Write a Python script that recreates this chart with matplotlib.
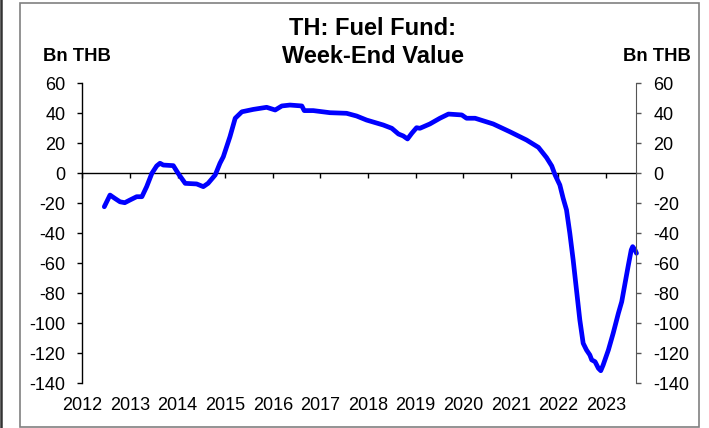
import matplotlib
matplotlib.use("Agg")
import matplotlib.pyplot as plt
from matplotlib.patches import Rectangle
from matplotlib.lines import Line2D

plt.rcParams['font.family'] = ['Liberation Sans', 'DejaVu Sans']
plt.rcParams['axes.unicode_minus'] = False

# ===== data =====
years = [2012.46, 2012.58, 2012.68, 2012.79, 2012.89, 2013.00, 2013.14, 2013.25,
         2013.35, 2013.46, 2013.56, 2013.63, 2013.70, 2013.91, 2014.01, 2014.16,
         2014.40, 2014.54, 2014.64, 2014.79, 2014.89, 2014.96, 2015.10, 2015.21,
         2015.35, 2015.59, 2015.87, 2016.05, 2016.19, 2016.36, 2016.61, 2016.66,
         2016.85, 2017.20, 2017.55, 2017.76, 2017.97, 2018.32, 2018.50, 2018.64,
         2018.74, 2018.83, 2018.92, 2019.02, 2019.09, 2019.30, 2019.51, 2019.69,
         2019.97, 2020.07, 2020.25, 2020.63, 2020.98, 2021.33, 2021.58, 2021.75,
         2021.86, 2021.93, 2022.03, 2022.10, 2022.17, 2022.24, 2022.31, 2022.38,
         2022.45, 2022.52, 2022.59, 2022.66, 2022.70, 2022.77, 2022.84, 2022.89,
         2022.94, 2023.05, 2023.15, 2023.26, 2023.33, 2023.40, 2023.47, 2023.53,
         2023.56, 2023.61, 2023.64]
fund_bn = [-22.3, -14.5, -16.7, -19.0, -19.6, -17.8, -15.6, -15.6,
           -8.9, 0.0, 4.9, 6.7, 5.5, 5.1, 0.0, -6.7,
           -7.1, -8.9, -6.7, -1.1, 6.7, 11.0, 24.4, 36.7,
           41.0, 42.6, 44.0, 42.2, 44.9, 45.5, 44.9, 41.8,
           41.8, 40.4, 40.0, 38.2, 35.5, 32.2, 30.0, 26.2,
           24.9, 22.9, 26.7, 30.4, 30.0, 32.9, 36.7, 39.5,
           38.9, 36.7, 36.7, 32.9, 27.7, 22.2, 17.3, 10.5,
           4.9, -1.1, -7.8, -16.7, -24.4, -40.0, -57.8, -77.8,
           -97.8, -113.3, -117.8, -121.1, -124.4, -125.6, -130.0, -131.6,
           -127.8, -117.8, -106.7, -93.3, -85.6, -73.3, -61.1, -51.1,
           -48.9, -51.1, -53.3]

year_ticks = list(range(2012, 2024))
y_ticks = list(range(-140, 61, 20))

# ===== figure =====
W, H = 709, 428
fig = plt.figure(figsize=(W / 100, H / 100), dpi=100)
ax = fig.add_axes([82.4 / W, 1 - 383.3 / H, (636 - 82.4) / W, 300 / H])

ax.plot(years, fund_bn, color='#0000ff', lw=3.4, solid_joinstyle='round',
        solid_capstyle='round', clip_on=False, zorder=3)

ax.set_xlim(2012, 2023.63)
ax.set_ylim(-140, 60)

# spines
ax.spines['top'].set_visible(False)
ax.spines['bottom'].set_position(('data', 0))
ax.spines['bottom'].set_linewidth(1.0)
ax.spines['left'].set_linewidth(1.0)
ax.spines['right'].set_visible(False)

# x ticks on zero line, labels at bottom via secondary axis
ax.set_xticks(year_ticks)
ax.tick_params(axis='x', direction='out', length=3.5, width=1, labelbottom=False)
sec = ax.secondary_xaxis('bottom')
sec.set_xticks(year_ticks)
sec.set_xticklabels([str(y) for y in year_ticks])
sec.tick_params(length=0, pad=10, labelsize=13)
sec.spines['bottom'].set_visible(False)

# left y axis
ax.set_yticks(y_ticks)
ax.tick_params(axis='y', direction='out', length=3.3, width=1, pad=8.9, labelsize=13)

# right y axis
ax_r = ax.twinx()
ax_r.set_ylim(ax.get_ylim())
ax_r.set_yticks(y_ticks)
ax_r.tick_params(axis='y', direction='out', length=3.5, width=1, pad=9.1,
                 labelsize=13, colors='black')
for s in ['top', 'bottom', 'left']:
    ax_r.spines[s].set_visible(False)
ax_r.spines['right'].set_color('#555555')
ax_r.tick_params(axis='y', color='#555555')

# titles / unit labels
fig.text(373 / W, 1 - 35 / H, 'TH: Fuel Fund:', ha='center', va='baseline',
         fontsize=17, fontweight='bold')
fig.text(373 / W, 1 - 63.3 / H, 'Week-End Value', ha='center', va='baseline',
         fontsize=17, fontweight='bold')
fig.text(76.7 / W, 1 - 60.7 / H, 'Bn THB', ha='center', va='baseline',
         fontsize=13.3, fontweight='bold')
fig.text(657 / W, 1 - 60.7 / H, 'Bn THB', ha='center', va='baseline',
         fontsize=13.3, fontweight='bold')

# outer frame
fig.add_artist(Rectangle((20 / W, 1 - 426.5 / H), 679 / W, 423.2 / H,
                         transform=fig.transFigure, fill=False,
                         edgecolor='#808080', lw=1.2))
fig.add_artist(Line2D([1.2 / W, 1.2 / W], [0, 1], transform=fig.transFigure,
                      color='#333333', lw=1.8))

fig.savefig('out.png', dpi=100)
